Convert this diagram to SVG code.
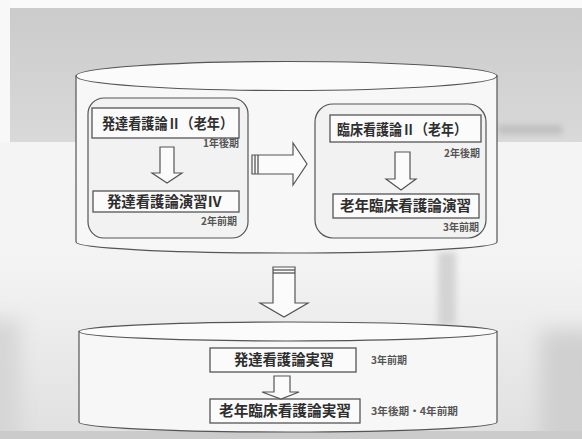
<svg xmlns="http://www.w3.org/2000/svg" width="582" height="439" viewBox="0 0 582 439">
  <defs>
    <linearGradient id="bgTop" x1="0" y1="0" x2="0" y2="1">
      <stop offset="0" stop-color="#cbcbcb"/>
      <stop offset="1" stop-color="#d9d9d9"/>
    </linearGradient>
    <linearGradient id="bgMid" x1="0" y1="0" x2="0" y2="1">
      <stop offset="0" stop-color="#f6f6f6"/>
      <stop offset="0.6" stop-color="#f3f3f3"/>
      <stop offset="1" stop-color="#e0e0e0"/>
    </linearGradient>
    <filter id="blur" x="-50%" y="-50%" width="200%" height="200%">
      <feGaussianBlur stdDeviation="3"/>
    </filter>
    <filter id="soft" x="-50%" y="-50%" width="200%" height="200%">
      <feGaussianBlur stdDeviation="10"/>
    </filter>
    <style>
      .cyl { fill: #f7f7f7; stroke: #555; stroke-width: 1.2; }
      .cyltop { fill: #fbfbfb; stroke: #555; stroke-width: 1.2; }
      .group { fill: #f2f2f2; stroke: #555; stroke-width: 1.2; }
      .box { fill: #fbfbfb; stroke: #555; stroke-width: 1.3; }
      .arrow { fill: #fbfbfb; stroke: #555; stroke-width: 1.2; stroke-linejoin: miter; }
      .stripe { stroke: #555; stroke-width: 1.3; }
      .t { font-family: "Noto Sans CJK JP", "Noto Sans CJK SC", sans-serif; font-weight: bold; fill: #2e2e2e; text-anchor: middle; font-size: 14.5px; }
      .s { font-family: "Noto Sans CJK JP", "Noto Sans CJK SC", sans-serif; font-weight: bold; fill: #555; font-size: 10px; }
    </style>
  </defs>

  <!-- background (photo tones) -->
  <rect x="0" y="0" width="582" height="439" fill="url(#bgMid)"/>
  <rect x="-20" y="320" width="40" height="140" fill="#d6d6d6" filter="url(#soft)"/>
  <rect x="540" y="330" width="60" height="130" fill="#d0d0d0" filter="url(#soft)"/>
  <rect x="10" y="8" width="572" height="134" fill="url(#bgTop)"/>
  <rect x="0" y="0" width="582" height="8" fill="#fafafa"/>
  <rect x="0" y="0" width="10" height="142" fill="#f8f8f8"/>
  <rect x="498" y="125" width="64" height="9" fill="#b8b8b8" filter="url(#blur)" opacity="0.8"/>
  <rect x="438" y="252" width="18" height="74" fill="#d4d4d4" filter="url(#blur)"/>
  <rect x="0" y="431" width="582" height="8" fill="#cbcbcb"/>

  <!-- top cylinder -->
  <g id="cylinder-top">
    <path class="cyl" d="M76,76 L76,242 A210.5,11 0 0 0 497,242 L497,76 Z"/>
    <ellipse class="cyltop" cx="286.5" cy="76" rx="210.5" ry="14.5"/>
  </g>

  <!-- bottom cylinder -->
  <g id="cylinder-bottom">
    <path class="cyl" d="M79,331.5 L79,422 A209,10 0 0 0 497,422 L497,331.5 Z"/>
    <ellipse class="cyltop" cx="288" cy="331.5" rx="209" ry="9.5"/>
  </g>

  <!-- left group -->
  <g id="group-left">
    <rect class="group" x="88" y="98" width="160" height="140" rx="16" ry="16"/>
  </g>
  <g id="node-hattatsu2">
    <rect class="box" x="92" y="108" width="147" height="30"/>
    <text class="t" x="167.5" y="129" textLength="131" lengthAdjust="spacingAndGlyphs">発達看護論Ⅱ（老年）</text>
    <text class="s" x="239" y="147" text-anchor="end">1年後期</text>
  </g>
  <g id="node-hattatsu-enshu">
    <rect class="box" x="93" y="191" width="146" height="21"/>
    <text class="t" x="164.5" y="207" textLength="115" lengthAdjust="spacingAndGlyphs">発達看護論演習Ⅳ</text>
    <text class="s" x="237" y="225" text-anchor="end">2年前期</text>
  </g>

  <!-- right group -->
  <g id="group-right">
    <rect class="group" x="315" y="104" width="171" height="134" rx="18" ry="18"/>
  </g>
  <g id="node-rinsho2">
    <rect class="box" x="330" y="115" width="151" height="27"/>
    <text class="t" x="402" y="134.5" textLength="130" lengthAdjust="spacingAndGlyphs">臨床看護論Ⅱ（老年）</text>
    <text class="s" x="480" y="157" text-anchor="end">2年後期</text>
  </g>
  <g id="node-rinsho-enshu">
    <rect class="box" x="333" y="194" width="146" height="24"/>
    <text class="t" x="405.5" y="211" textLength="131" lengthAdjust="spacingAndGlyphs">老年臨床看護論演習</text>
    <text class="s" x="479" y="231" text-anchor="end">3年前期</text>
  </g>

  <!-- bottom nodes -->
  <g id="node-jisshu">
    <rect class="box" x="210" y="348" width="146" height="24"/>
    <text class="t" x="284" y="365" textLength="100" lengthAdjust="spacingAndGlyphs">発達看護論実習</text>
    <text class="s" x="371" y="364">3年前期</text>
  </g>
  <g id="node-rinsho-jisshu">
    <rect class="box" x="210" y="399" width="150" height="24"/>
    <text class="t" x="285" y="416" textLength="132" lengthAdjust="spacingAndGlyphs">老年臨床看護論実習</text>
    <text class="s" x="371" y="415" textLength="87" lengthAdjust="spacingAndGlyphs">3年後期・4年前期</text>
  </g>

  <!-- connectors -->
  <g id="connectors">
    <!-- left group: down arrow -->
    <path class="arrow" d="M160,147 L174,147 L174,173 L182,173 L167,183 L152,173 L160,173 Z"/>
    <!-- right group: down arrow -->
    <path class="arrow" d="M395,152 L410,152 L410,179 L416,179 L401,190 L386,179 L395,179 Z"/>
    <!-- left group to right group: striped right arrow -->
    <path class="arrow" d="M252,155 L293,155 L293,143 L307,164 L293,185 L293,174 L252,174 Z"/>
    <line class="stripe" x1="255" y1="155" x2="255" y2="174"/>
    <line class="stripe" x1="258" y1="155" x2="258" y2="174"/>
    <!-- top cylinder to bottom cylinder: striped down arrow -->
    <path class="arrow" d="M273,267 L295,267 L295,303 L308,303 L284,317 L260,303 L273,303 Z"/>
    <line class="stripe" x1="273" y1="270" x2="295" y2="270"/>
    <line class="stripe" x1="273" y1="273" x2="295" y2="273"/>
    <!-- bottom: down arrow -->
    <path class="arrow" d="M274,376 L290,376 L290,392 L299,392 L281,399 L262,392 L274,392 Z"/>
  </g>
</svg>
